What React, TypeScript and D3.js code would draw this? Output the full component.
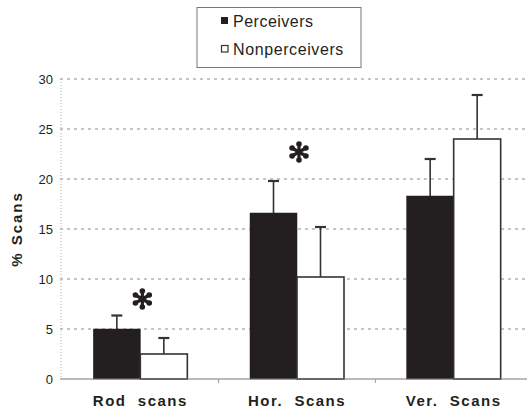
import React from 'react';
import * as d3 from 'd3';

const categories = ['Rod  scans', 'Hor.  Scans', 'Ver.  Scans'];
const seriesNames = ['Perceivers', 'Nonperceivers'];
const perceivers = [5.0, 16.6, 18.3];
const perceiversErr = [1.35, 3.2, 3.7];
const nonperceivers = [2.5, 10.2, 24.0];
const nonperceiversErr = [1.6, 5.0, 4.4];
const yTicks = [0, 5, 10, 15, 20, 25, 30];
// level (in % units) where the significance asterisk sits; null = none
const starLevel = [8.0, 22.7, null];

const W = 527;
const H = 410;
const ink = '#231f20';

function Star({ x, y }: { x: number; y: number }) {
  const len = 8;
  const angles = d3.range(6).map(i => Math.PI / 2 + (i * Math.PI) / 3);
  return (
    <g transform={`translate(${x},${y})`} fill={ink} stroke={ink}>
      {angles.map((a, i) => (
        <g key={i}>
          <line x1={0} y1={0} x2={len * Math.cos(a)} y2={-len * Math.sin(a)} strokeWidth={3.2} />
          <circle cx={len * Math.cos(a)} cy={-len * Math.sin(a)} r={2.8} stroke="none" />
        </g>
      ))}
      <circle r={3} stroke="none" />
    </g>
  );
}

export default function App() {
  const x0 = d3.scaleBand<string>().domain(categories).range([62, 532]).padding(0);
  const x1 = d3.scaleBand<string>().domain(seriesNames).range([-47, 47]).padding(0);
  const y = d3.scaleLinear().domain([0, 30]).range([379, 79]);

  const series = [
    { name: seriesNames[0], values: perceivers, err: perceiversErr, fill: ink },
    { name: seriesNames[1], values: nonperceivers, err: nonperceiversErr, fill: '#fff' },
  ];

  const cx = (c: string) => (x0(c) ?? 0) + x0.bandwidth() / 2;

  return (
    <svg width={W} height={H} style={{ position: 'absolute', left: 0, top: 0, background: '#fff' }}
      fontFamily="'Liberation Sans', Arial, Helvetica, sans-serif">
      {/* grid */}
      {yTicks.filter(t => t > 0).map(t => (
        <line key={t} x1={60} x2={W} y1={y(t)} y2={y(t)} stroke="#8a8a8a" strokeWidth={1}
          strokeDasharray="3,4" />
      ))}
      {/* y axis dotted */}
      <line x1={61} x2={61} y1={y(30)} y2={y(0)} stroke="#b5b5b5" strokeWidth={1} strokeDasharray="1,2" />
      {yTicks.map(t => (
        <text key={t} x={53} y={y(t)} dy="0.35em" textAnchor="end" fontSize={13} fill={ink}>{t}</text>
      ))}
      <text transform={`translate(22,229) rotate(-90)`} textAnchor="middle" fontSize={15}
        fontWeight="bold" letterSpacing={2} fill={ink}>% Scans</text>

      {/* bars */}
      {series.map(s => (
        <g key={s.name}>
          {categories.map((c, i) => {
            const bx = cx(c) + (x1(s.name) ?? 0);
            const bw = x1.bandwidth();
            const mid = bx + bw / 2;
            const top = y(s.values[i]);
            const et = y(s.values[i] + s.err[i]);
            return (
              <g key={c}>
                <line x1={mid} x2={mid} y1={top} y2={et} stroke="#333" strokeWidth={1.6} />
                <line x1={mid - 5.5} x2={mid + 5.5} y1={et} y2={et} stroke="#333" strokeWidth={2.2} />
                <rect x={bx} y={top} width={bw} height={y(0) - top} fill={s.fill}
                  stroke={s.fill === '#fff' ? '#333' : ink} strokeWidth={s.fill === '#fff' ? 1.6 : 0.5} />
              </g>
            );
          })}
        </g>
      ))}

      {/* x axis */}
      <line x1={60} x2={W} y1={y(0)} y2={y(0)} stroke="#777" strokeWidth={1.2} />
      {categories.slice(1).map(c => (
        <line key={c} x1={x0(c)} x2={x0(c)} y1={y(0)} y2={y(0) + 4} stroke="#999" strokeWidth={1} />
      ))}
      {categories.map(c => (
        <text key={c} x={cx(c)} y={406} textAnchor="middle" fontSize={15} fontWeight="bold"
          letterSpacing={1.5} fill={ink} style={{ whiteSpace: 'pre' }}>{c}</text>
      ))}

      {/* significance markers */}
      {categories.map((c, i) => starLevel[i] != null ? (
        <Star key={c} x={cx(c) + 2} y={y(starLevel[i] as number)} />
      ) : null)}

      {/* legend */}
      <rect x={197} y={7.5} width={164} height={60} fill="#fff" stroke="#777" strokeWidth={1} />
      <rect x={221} y={17} width={7} height={7} fill={ink} />
      <text x={233} y={26.5} fontSize={16} letterSpacing={0.5} fill={ink}>{seriesNames[0]}</text>
      <rect x={221.5} y={45.5} width={6.5} height={6.5} fill="#fff" stroke="#333" strokeWidth={1.2} />
      <text x={233} y={54.5} fontSize={16} letterSpacing={0.6} fill={ink}>{seriesNames[1]}</text>
    </svg>
  );
}
